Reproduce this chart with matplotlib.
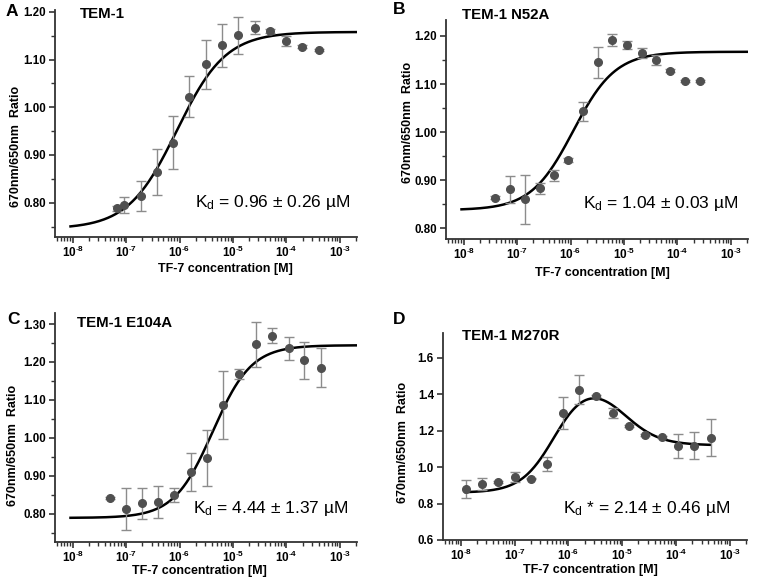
import numpy as np
import matplotlib
matplotlib.use('Agg')
import matplotlib.pyplot as plt
import matplotlib.ticker as mticker

plt.rcParams['font.family'] = ['Liberation Sans', 'DejaVu Sans']
plt.rcParams['mathtext.fontset'] = 'custom'
plt.rcParams['mathtext.rm'] = 'Liberation Sans'
plt.rcParams['mathtext.it'] = 'Liberation Sans:italic'
plt.rcParams['mathtext.bf'] = 'Liberation Sans:bold'

# ---- data (log10 of TF-7 concentration [M], ratio, error) ----
a_logx = [-7.17, -7.03, -6.72, -6.43, -6.13, -5.83, -5.51, -5.21, -4.91, -4.59, -4.30, -4.00, -3.70, -3.39]
a_y = [0.788, 0.795, 0.814, 0.864, 0.926, 1.022, 1.090, 1.130, 1.151, 1.167, 1.160, 1.139, 1.127, 1.120]
a_err = [0.006, 0.017, 0.031, 0.048, 0.056, 0.043, 0.052, 0.045, 0.039, 0.014, 0.004, 0.010, 0.003, 0.003]

b_logx = [-7.41, -7.13, -6.86, -6.58, -6.31, -6.04, -5.76, -5.49, -5.22, -4.94, -4.67, -4.40, -4.13, -3.86, -3.58]
b_y = [0.864, 0.881, 0.861, 0.883, 0.910, 0.942, 1.043, 1.145, 1.192, 1.181, 1.165, 1.150, 1.128, 1.107, 1.107]
b_err = [0.003, 0.028, 0.051, 0.012, 0.011, 0.005, 0.020, 0.032, 0.012, 0.008, 0.010, 0.010, 0.003, 0.002, 0.002]

c_logx = [-7.31, -7.00, -6.70, -6.40, -6.10, -5.79, -5.49, -5.18, -4.88, -4.57, -4.27, -3.96, -3.67, -3.36]
c_y = [0.842, 0.813, 0.827, 0.831, 0.850, 0.910, 0.946, 1.087, 1.168, 1.246, 1.269, 1.236, 1.204, 1.185]
c_err = [0.002, 0.055, 0.040, 0.043, 0.018, 0.050, 0.074, 0.090, 0.014, 0.060, 0.020, 0.031, 0.048, 0.051]

d_logx = [-7.91, -7.61, -7.31, -7.00, -6.70, -6.39, -6.10, -5.80, -5.48, -5.17, -4.88, -4.57, -4.26, -3.96, -3.66, -3.35]
d_y = [0.879, 0.908, 0.917, 0.945, 0.936, 1.017, 1.297, 1.426, 1.393, 1.297, 1.228, 1.178, 1.165, 1.117, 1.119, 1.163]
d_err = [0.050, 0.034, 0.005, 0.027, 0.003, 0.040, 0.088, 0.080, 0.005, 0.027, 0.005, 0.005, 0.005, 0.065, 0.072, 0.100]

# fitted curve parameters: bottom, top, logEC50, hill, x range
a_fit = (0.745, 1.158, -6.05, 0.95, -8.04, -2.69)
b_fit = (0.838, 1.167, -5.95, 1.1, -8.04, -2.70)
c_fit = (0.789, 1.244, -5.38, 1.2, -8.04, -2.69)
# two-step (rise then fall) fit for M270R: base, rise, logK1, h1, fall, logK2, h2, x range
d_fit = (0.86, 0.64, -6.25, 1.4, 0.38, -5.0, 1.3, -7.91, -3.36)

titles = ['TEM-1', 'TEM-1 N52A', 'TEM-1 E104A', 'TEM-1 M270R']
kd_labels = [r'$\mathrm{K_d}$ = 0.96 $\pm$ 0.26 µM',
             r'$\mathrm{K_d}$ = 1.04 $\pm$ 0.03 µM',
             r'$\mathrm{K_d}$ = 4.44 $\pm$ 1.37 µM',
             r'$\mathrm{K_d}$ * = 2.14 $\pm$ 0.46 µM']
letters = ['A', 'B', 'C', 'D']


def hill(x, bottom, top, logec, h):
    return bottom + (top - bottom) / (1 + 10 ** ((logec - x) * h))


W, H = 760, 578
fig = plt.figure(figsize=(W / 100, H / 100), dpi=100)


def px_axes(left, top, right, bottom):
    return fig.add_axes([left / W, 1 - bottom / H, (right - left) / W, (bottom - top) / H])


boxes = [(55, 10, 357, 237), (446, 20, 748, 239), (55, 313, 357, 542), (443, 333, 747, 540)]
ylims = [(0.728, 1.204), (0.778, 1.233), (0.7255, 1.329), (0.6, 1.737)]
yticks = [[0.80, 0.90, 1.00, 1.10, 1.20], [0.80, 0.90, 1.00, 1.10, 1.20],
          [0.80, 0.90, 1.00, 1.10, 1.20, 1.30], [0.6, 0.8, 1.0, 1.2, 1.4, 1.6]]
kd_pos = [(0.977, 0.154), (0.967, 0.164), (0.970, 0.148), (0.944, 0.150)]
title_px = [(80, 14), (462, 15), (77, 323), (462, 336)]
letter_px = [(6, 12), (393, 9), (7, 319), (393, 319)]
ylabel_pos = [(-0.109, 0.40), (-0.106, 0.53), (-0.119, 0.42), (-0.112, 0.47)]
xlabel_pos = [(0.563, -0.115), (0.517, -0.128), (0.477, -0.101), (0.484, -0.114)]

data = [(a_logx, a_y, a_err), (b_logx, b_y, b_err), (c_logx, c_y, c_err), (d_logx, d_y, d_err)]

for i in range(4):
    ax = px_axes(*boxes[i])
    lx, y, err = data[i]
    conc = 10 ** np.array(lx)

    if i < 3:
        bottom, top, logec, h, x0, x1 = [a_fit, b_fit, c_fit][i]
        xs = np.linspace(x0, x1, 300)
        ys = hill(xs, bottom, top, logec, h)
    else:
        base, rise, k1, h1, fall, k2, h2, x0, x1 = d_fit
        xs = np.linspace(x0, x1, 300)
        ys = base + rise / (1 + 10 ** ((k1 - xs) * h1)) - fall / (1 + 10 ** ((k2 - xs) * h2))
    ax.plot(10 ** xs, ys, color='black', lw=1.8, zorder=2)

    ax.errorbar(conc, y, yerr=err, fmt='o', color='#505050', ms=5.5,
                ecolor='#8c8c8c', elinewidth=1.0, capsize=3.3, capthick=1.0, zorder=3)

    ax.set_xscale('log')
    ax.set_xlim(10 ** -8.33, 10 ** -2.68)
    ax.set_ylim(*ylims[i])
    ax.set_xticks([10.0 ** e for e in range(-8, -2)])
    ax.set_xticklabels([r'$\mathbf{10^{\text{-}%d}}$' % abs(e) for e in range(-8, -2)], fontsize=8.5)
    ax.xaxis.set_minor_locator(mticker.LogLocator(base=10, subs=np.arange(2, 10), numticks=20))
    ax.xaxis.set_minor_formatter(mticker.NullFormatter())
    ax.set_yticks(yticks[i])
    fmt = '%.2f' if i < 3 else '%.1f'
    ax.set_yticklabels([fmt % v for v in yticks[i]], fontweight='bold', fontsize=8.3)
    if i < 3:
        ax.yaxis.set_minor_locator(mticker.MultipleLocator(0.05))

    for s in ['top', 'right']:
        ax.spines[s].set_visible(False)
    for s in ['left', 'bottom']:
        ax.spines[s].set_linewidth(1.3)
        ax.spines[s].set_color('#333333')
    ax.tick_params(which='major', length=4.5, width=1.2, color='#333333')
    ax.tick_params(which='minor', length=3, width=1.0, color='#333333')
    ax.tick_params(axis='x', which='major', pad=1)
    ax.tick_params(axis='y', which='major', pad=2)

    ax.set_xlabel('TF-7 concentration [M]', fontsize=9, fontweight='bold')
    ax.set_ylabel('670nm/650nm  Ratio', fontsize=9, fontweight='bold')
    ax.xaxis.set_label_coords(*xlabel_pos[i])
    ax.yaxis.set_label_coords(*ylabel_pos[i])

    ax.text(kd_pos[i][0], kd_pos[i][1], kd_labels[i], transform=ax.transAxes,
            ha='right', va='center', fontsize=12.5)

    tx, ty = title_px[i]
    fig.text(tx / W, 1 - ty / H, titles[i], ha='left', va='center', fontsize=10.8, fontweight='bold')
    lxp, lyp = letter_px[i]
    fig.text(lxp / W, 1 - lyp / H, letters[i], ha='left', va='center', fontsize=12.5, fontweight='bold')

fig.savefig('out.png', dpi=100)
